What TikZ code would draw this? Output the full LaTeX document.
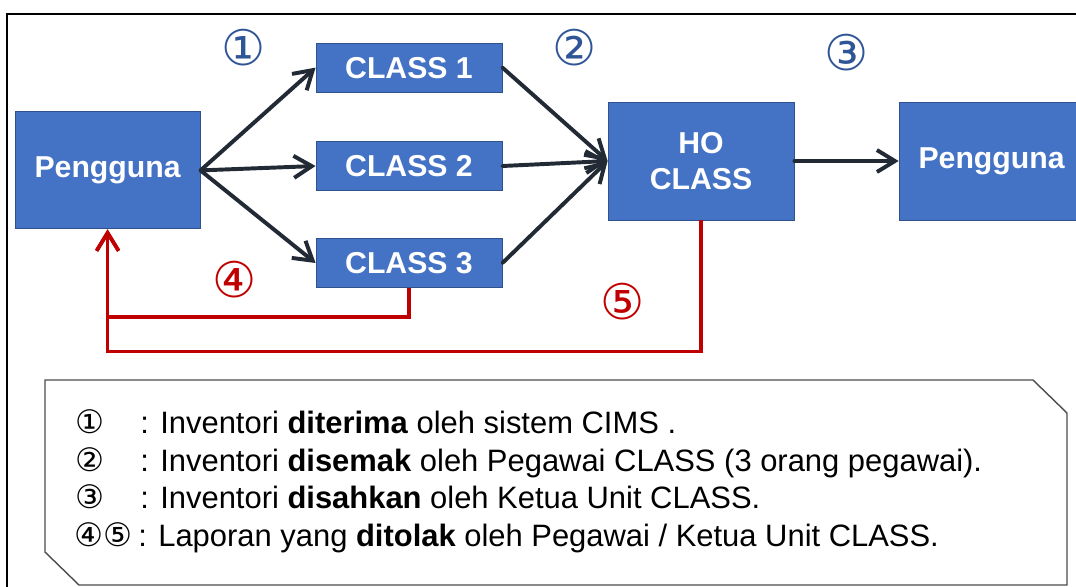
\documentclass[tikz,border=0pt]{standalone}
\usepackage{fontspec}
\setmainfont{Liberation Sans}
\newfontfamily\circfont{DejaVu Sans}
\usetikzlibrary{arrows.meta,positioning}
\definecolor{boite}{RGB}{68,114,196}
\definecolor{bord}{RGB}{47,82,143}
\definecolor{fleche}{RGB}{34,42,53}
\definecolor{rejet}{RGB}{192,0,0}
\definecolor{numero}{RGB}{47,85,151}
\tikzset{
  bloc/.style={draw=bord,fill=boite,text=white,line width=0.6pt,inner sep=0pt,
    align=center,font=\bfseries\fontsize{21.5}{26}\selectfont},
  flux/.style={draw=fleche,line width=2.8pt,line cap=round,
    -{Straight Barb[length=4.5mm,width=5.5mm]}},
  retour/.style={draw=rejet,line width=2.6pt,
    -{Straight Barb[length=4.5mm,width=5.5mm]}},
  num/.style={font=\circfont\fontsize{35}{35}\selectfont},
  legende/.style={anchor=base west,inner sep=0pt,font=\fontsize{22}{26}\selectfont},
  symb/.style={anchor=base west,inner sep=0pt,font=\circfont\fontsize{23}{26}\selectfont}
}

\begin{document}
\begin{tikzpicture}
  \useasboundingbox (0,0) rectangle (26.9,-14.65);
  \draw[line width=1.4pt](0.175,-0.35) rectangle (27.5,-15.2);

  % blocs
  \node[bloc,minimum width=4.625cm,minimum height=2.925cm] (pengA) at (2.69,-4.26) {Pengguna};
  \node[bloc,minimum width=4.65cm,minimum height=1.225cm] (class1) at (10.225,-1.69) {CLASS 1};
  \node[bloc,minimum width=4.65cm,minimum height=1.225cm] (class2) at (10.225,-4.15) {CLASS 2};
  \node[bloc,minimum width=4.65cm,minimum height=1.225cm] (class3) at (10.225,-6.575) {CLASS 3};
  \node[bloc,minimum width=4.65cm,minimum height=2.95cm] (hoclass) at (17.525,-4.025) {HO\\CLASS};
  \node[bloc,minimum width=4.625cm,minimum height=2.95cm] (pengB) at (24.79,-4.025) {Pengguna};

  % fleches
  \foreach \c in {class1,class2,class3}{
    \draw[flux](pengA.east)--(\c.west);
    \draw[flux](\c.east)--(hoclass.west);}
  \draw[flux](hoclass.east)--(pengB.west);
  \draw[retour](class3.south)--++(0,-0.725)-|(pengA.south);
  \draw[retour](hoclass.south)--++(0,-3.275)-|(pengA.south);

  % numeros
  \node[num,numero] (n1) at (6.1,-1.2){①};
  \node[num,numero] (n2) at (14.375,-1.2){②};
  \node[num,numero] (n3) at (21.175,-1.31){③};
  \node[num,rejet] (n4) at (5.875,-7.0){④};
  \node[num,rejet] (n5) at (15.575,-7.53){⑤};

  % legende
  \draw[line width=1pt,black!70](1.125,-9.5)--(25.825,-9.5)--(26.675,-10.325)
    --(26.675,-14.625)--(1.975,-14.625)--(1.125,-13.8)--cycle;
  \node[symb] (s1) at (1.875,-10.825){①};
  \node[symb] (s2) at (1.875,-11.775){②};
  \node[symb] (s3) at (1.875,-12.7){③};
  \node[symb] (s4) at (1.85,-13.65){④⑤};
  \node[legende] (t1) at (3.5,-10.825){: Inventori \textbf{diterima} oleh sistem CIMS .};
  \node[legende] (t2) at (3.5,-11.775){: Inventori \textbf{disemak} oleh Pegawai CLASS (3 orang pegawai).};
  \node[legende] (t3) at (3.5,-12.7){: Inventori \textbf{disahkan} oleh Ketua Unit CLASS.};
  \node[legende] (t4) at (3.45,-13.65){: Laporan yang \textbf{ditolak} oleh Pegawai / Ketua Unit CLASS.};
\end{tikzpicture}
\end{document}
